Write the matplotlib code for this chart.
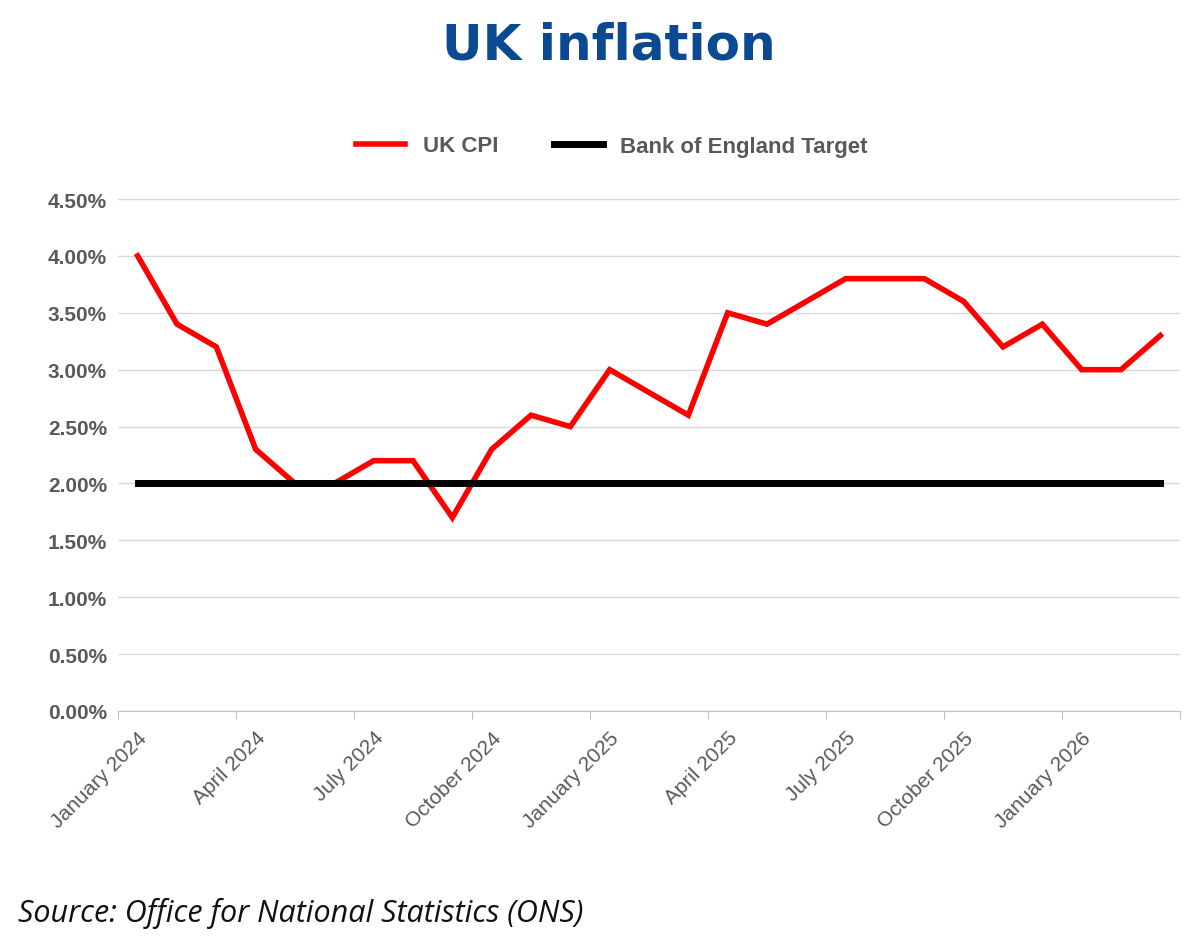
import matplotlib
matplotlib.use("Agg")
import matplotlib.pyplot as plt
import numpy as np

# Monthly CPI, January 2024 to March 2026
cpi = [4.0, 3.4, 3.2, 2.3, 2.0, 2.0, 2.2, 2.2, 1.7, 2.3, 2.6, 2.5,
       3.0, 2.8, 2.6, 3.5, 3.4, 3.6, 3.8, 3.8, 3.8, 3.6, 3.2, 3.4,
       3.0, 3.0, 3.3]
target = [2.0] * len(cpi)
tick_labels = ["January 2024", "April 2024", "July 2024", "October 2024",
               "January 2025", "April 2025", "July 2025", "October 2025",
               "January 2026"]
y_ticks = [0, 0.5, 1.0, 1.5, 2.0, 2.5, 3.0, 3.5, 4.0, 4.5]

plt.rcParams['font.family'] = ['Liberation Sans', 'DejaVu Sans']
grey = '#595959'

fig = plt.figure(figsize=(12, 9.53), dpi=100)
ax = fig.add_axes([118/1200, 1 - 712/953, 1062/1200, 512/953])

x = np.arange(len(cpi))
ax.plot(x, cpi, color='#FF0000', lw=4, label='UK CPI', solid_joinstyle='miter')
ax.plot(x, target, color='black', lw=5, label='Bank of England Target')

ax.set_xlim(-0.5, len(cpi) - 0.5)
ax.set_ylim(0, 4.5)
ax.set_yticks(y_ticks)
ax.set_yticklabels([f"{v:.2f}%" for v in y_ticks], fontsize=15,
                   fontweight='bold', color=grey)
ax.yaxis.grid(True, color='#D9D9D9', lw=1)
ax.set_axisbelow(True)
ax.tick_params(axis='y', length=0, pad=8)

ax.set_xticks(np.arange(-0.5, len(cpi), 3), minor=False)
ax.set_xticklabels([])
ax.set_xticks(np.arange(0, len(cpi), 3), minor=True)
ax.set_xticklabels(tick_labels, minor=True, rotation=45, ha='right',
                   rotation_mode='anchor', fontsize=15, color=grey)
ax.tick_params(axis='x', which='major', length=6, color='#BFBFBF')
ax.tick_params(axis='x', which='minor', length=0, pad=12)

for s in ['top', 'right', 'left']:
    ax.spines[s].set_visible(False)
ax.spines['bottom'].set_color('#BFBFBF')

leg = fig.legend(loc='center', bbox_to_anchor=(0.51, 1 - 147/953), ncol=2,
                 frameon=False, fontsize=16, handlelength=2.2,
                 columnspacing=2.5)
for t in leg.get_texts():
    t.set_color(grey)
    t.set_fontweight('bold')

fig.text(0.507, 1 - 45/953, "UK inflation", ha='center', va='center',
         fontsize=36, fontweight='bold', color='#0B4A92',
         family=['DejaVu Sans'])
fig.text(18/1200, 1 - 913/953, "Source: Office for National Statistics (ONS)",
         ha='left', va='center', fontsize=22, style='italic',
         color='#111111', family=['Open Sans', 'DejaVu Sans'])

fig.savefig("out.png", dpi=100, facecolor='white')
